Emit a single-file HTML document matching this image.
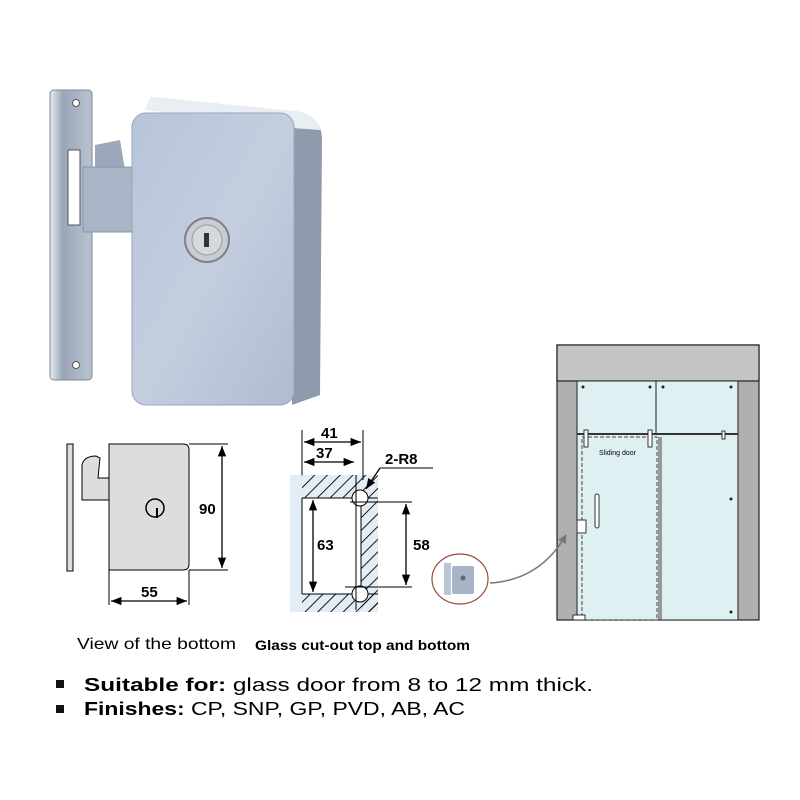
<!DOCTYPE html>
<html><head><meta charset="utf-8"><style>
body{margin:0;background:#fff;}
svg{display:block;font-family:"Liberation Sans",Arial,sans-serif;}
</style></head><body>
<svg width="800" height="800" viewBox="0 0 800 800" xmlns="http://www.w3.org/2000/svg">
<defs>
<linearGradient id="bg" x1="0" y1="0" x2="1" y2="1"><stop offset="0" stop-color="#b7c4d8"/><stop offset="0.5" stop-color="#c4cedf"/><stop offset="1" stop-color="#aebbd0"/></linearGradient>
<linearGradient id="pg" x1="0" y1="0" x2="1" y2="0"><stop offset="0" stop-color="#e8edf3"/><stop offset="0.3" stop-color="#9aa6b8"/><stop offset="1" stop-color="#b8c2d2"/></linearGradient>
<pattern id="hatch" width="9" height="9" patternUnits="userSpaceOnUse" patternTransform="rotate(45)"><line x1="0" y1="0" x2="0" y2="9" stroke="#000" stroke-width="1.8"/></pattern>
<marker id="ar" viewBox="0 0 10 10" refX="10" refY="5" markerWidth="8" markerHeight="8" orient="auto-start-reverse"><path d="M0,1 L10,5 L0,9 z" fill="#000"/></marker>
<marker id="ag" viewBox="0 0 10 10" refX="9" refY="5" markerWidth="6" markerHeight="6" orient="auto"><path d="M0,0 L10,5 L0,10 z" fill="#777"/></marker>
</defs>

<!-- product photo -->
<path d="M150,97 L300,112 Q322,118 322,140 L320,395 L292,405 L292,130 Z" fill="#8f9aac"/>
<path d="M150,97 L300,112 Q318,116 320,130 L292,128 L145,110 Z" fill="#e9eef4"/>
<rect x="50" y="90" width="42" height="290" rx="4" fill="url(#pg)" stroke="#7d889a"/>
<rect x="68" y="150" width="12" height="75" fill="#fff" stroke="#555"/>
<circle cx="76" cy="103" r="3.5" fill="#fff" stroke="#555"/>
<circle cx="76" cy="365" r="3.5" fill="#fff" stroke="#555"/>
<path d="M95,145 L120,140 L125,170 L95,172 Z" fill="#9ca8ba"/>
<rect x="83" y="167" width="52" height="65" fill="#a9b4c6" stroke="#8893a5"/>
<rect x="132" y="113" width="162" height="292" rx="14" fill="url(#bg)" stroke="#9aa6b8"/>
<circle cx="207" cy="240" r="22" fill="#c9ccd2" stroke="#7b808a" stroke-width="2"/>
<circle cx="207" cy="240" r="15" fill="#d5d8dd" stroke="#999"/>
<rect x="204" y="233" width="5" height="14" fill="#333"/>

<!-- bottom view -->
<rect x="67" y="444" width="6" height="127" fill="#ddd" stroke="#000"/>
<path d="M82,500 L82,465 Q84,456 96,456 L100,458 L98,478 L109,478 L109,500 Z" fill="#ddd" stroke="#000"/>
<path d="M109,444 L183,444 Q189,444 189,450 L189,564 Q189,570 183,570 L109,570 Z" fill="#ddd" stroke="#000"/>
<circle cx="155" cy="508" r="9" fill="none" stroke="#000" stroke-width="1.5"/>
<line x1="157" y1="508" x2="157" y2="518" stroke="#000" stroke-width="2"/>
<line x1="189" y1="444" x2="228" y2="444" stroke="#000"/>
<line x1="189" y1="570" x2="228" y2="570" stroke="#000"/>
<line x1="222" y1="446" x2="222" y2="568" stroke="#000" stroke-width="1.3" marker-start="url(#ar)" marker-end="url(#ar)"/>
<text x="199" y="514" font-size="15" font-weight="bold">90</text>
<line x1="109" y1="570" x2="109" y2="605" stroke="#000"/>
<line x1="189" y1="570" x2="189" y2="605" stroke="#000"/>
<line x1="111" y1="601" x2="187" y2="601" stroke="#000" stroke-width="1.3" marker-start="url(#ar)" marker-end="url(#ar)"/>
<text x="141" y="597" font-size="15" font-weight="bold">55</text>

<!-- glass cut-out -->
<rect x="290" y="475" width="88" height="137" fill="#e4ecf5"/>
<rect x="302" y="475" width="76" height="23" fill="url(#hatch)"/>
<rect x="361" y="498" width="17" height="114" fill="url(#hatch)"/>
<rect x="302" y="594" width="76" height="18" fill="url(#hatch)"/>
<rect x="302" y="498" width="59" height="96" fill="#fff"/>
<line x1="302" y1="498" x2="302" y2="594" stroke="#000"/>
<line x1="302" y1="498" x2="378" y2="498" stroke="#000"/>
<line x1="302" y1="594" x2="378" y2="594" stroke="#000"/>
<line x1="361" y1="498" x2="361" y2="594" stroke="#000"/>
<circle cx="360" cy="498" r="8" fill="#fff" stroke="#000"/>
<circle cx="360" cy="594" r="8" fill="#fff" stroke="#000"/>
<line x1="356" y1="475" x2="356" y2="610" stroke="#000"/>
<line x1="302" y1="430" x2="302" y2="475" stroke="#000"/>
<line x1="363" y1="430" x2="363" y2="480" stroke="#000"/>
<line x1="304" y1="442" x2="361" y2="442" stroke="#000" stroke-width="1.3" marker-start="url(#ar)" marker-end="url(#ar)"/>
<line x1="304" y1="462" x2="354" y2="462" stroke="#000" stroke-width="1.3" marker-start="url(#ar)" marker-end="url(#ar)"/>
<text x="321" y="438" font-size="15" font-weight="bold">41</text>
<text x="316" y="458" font-size="15" font-weight="bold">37</text>
<text x="385" y="464" font-size="15" font-weight="bold">2-R8</text>
<line x1="380" y1="468" x2="433" y2="468" stroke="#000"/>
<line x1="380" y1="468" x2="366" y2="489" stroke="#000" stroke-width="1.3" marker-end="url(#ar)"/>
<line x1="313" y1="500" x2="313" y2="592" stroke="#000" stroke-width="1.3" marker-start="url(#ar)" marker-end="url(#ar)"/>
<text x="317" y="550" font-size="15" font-weight="bold">63</text>
<line x1="350" y1="502" x2="412" y2="502" stroke="#000"/>
<line x1="345" y1="587" x2="412" y2="587" stroke="#000"/>
<line x1="406" y1="504" x2="406" y2="585" stroke="#000" stroke-width="1.3" marker-start="url(#ar)" marker-end="url(#ar)"/>
<text x="413" y="550" font-size="15" font-weight="bold">58</text>

<text x="77" y="649" font-size="16" textLength="159" lengthAdjust="spacingAndGlyphs">View of the bottom</text>
<text x="255" y="650" font-size="14" font-weight="bold" textLength="215" lengthAdjust="spacingAndGlyphs">Glass cut-out top and bottom</text>

<!-- door drawing -->
<rect x="557" y="345" width="202" height="275" fill="#b0b0b0" stroke="#222" stroke-width="1.2"/>
<rect x="557" y="345" width="202" height="36" fill="#c4c4c4" stroke="#222" stroke-width="1.2"/>
<rect x="577" y="381" width="161" height="239" fill="#dff0f2" stroke="#222"/>
<line x1="656" y1="381" x2="656" y2="434" stroke="#222"/>
<line x1="577" y1="434" x2="738" y2="434" stroke="#333" stroke-width="2"/>
<rect x="582" y="437" width="75" height="183" fill="none" stroke="#444" stroke-dasharray="4,2"/>
<line x1="659" y1="437" x2="659" y2="620" stroke="#444"/>
<line x1="661" y1="437" x2="661" y2="620" stroke="#444"/>
<rect x="584" y="430" width="4" height="17" fill="#fff" stroke="#333"/>
<rect x="648" y="430" width="4" height="17" fill="#fff" stroke="#333"/>
<rect x="722" y="431" width="3" height="8" fill="#fff" stroke="#333"/>
<text x="599" y="455" font-size="7">Sliding door</text>
<rect x="595" y="494" width="4" height="34" rx="2" fill="#fff" stroke="#333"/>
<rect x="577" y="520" width="9" height="13" fill="#fff" stroke="#333"/>
<rect x="573" y="615" width="12" height="5" fill="#fff" stroke="#333"/>
<g fill="#222"><circle cx="583" cy="387" r="1.5"/><circle cx="650" cy="387" r="1.5"/><circle cx="663" cy="387" r="1.5"/><circle cx="731" cy="387" r="1.5"/><circle cx="731" cy="499" r="1.5"/><circle cx="731" cy="612" r="1.5"/></g>
<path d="M490,583 Q540,580 566,535" fill="none" stroke="#777" stroke-width="1.5" marker-end="url(#ag)"/>
<ellipse cx="460" cy="579" rx="28" ry="25" fill="#fff" stroke="#9a4a3a" stroke-width="1.2"/>
<rect x="444" y="563" width="7" height="32" fill="#bcc5d4"/>
<rect x="452" y="566" width="22" height="28" rx="2" fill="#a7b3c6"/>
<circle cx="463" cy="578" r="2.5" fill="#666"/>

<!-- bullets -->
<rect x="56" y="680" width="8" height="8" fill="#111"/>
<text x="84" y="691" font-size="18" textLength="509" lengthAdjust="spacingAndGlyphs"><tspan font-weight="bold">Suitable for:</tspan> glass door from 8 to 12 mm thick.</text>
<rect x="56" y="705" width="8" height="8" fill="#111"/>
<text x="84" y="715" font-size="18" textLength="381" lengthAdjust="spacingAndGlyphs"><tspan font-weight="bold">Finishes:</tspan> CP, SNP, GP, PVD, AB, AC</text>
</svg>
</body></html>
